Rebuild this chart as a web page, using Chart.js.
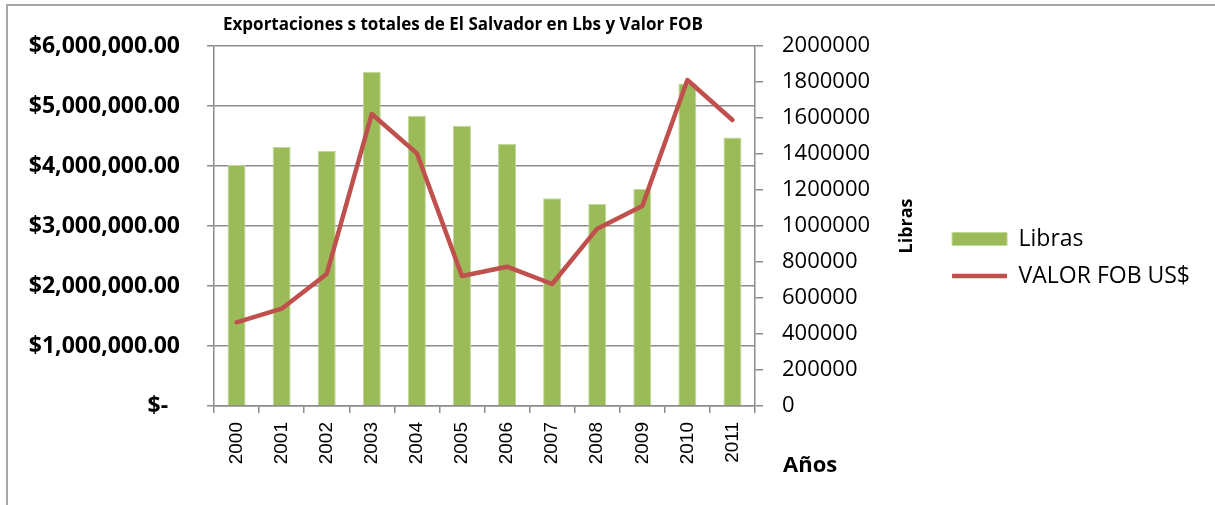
<!DOCTYPE html>
<html>
<head>
<meta charset="utf-8">
<script src="https://cdn.jsdelivr.net/npm/chart.js@4/dist/chart.umd.min.js"></script>
<style>
  body { margin: 0; background: #fff; }
</style>
</head>
<body>
<canvas id="myChart" width="1215" height="505"></canvas>
<script>
const years = ['2000', '2001', '2002', '2003', '2004', '2005', '2006', '2007', '2008', '2009', '2010', '2011'];
const libras = [1339000, 1439000, 1417000, 1857000, 1613000, 1557000, 1456000, 1154000, 1122000, 1206000, 1791000, 1491000];
const valorFob = [1395000, 1622000, 2200000, 4867000, 4211000, 2167000, 2322000, 2033000, 2955000, 3333000, 5433000, 4767000];

const chartTitle = 'Exportaciones s totales de El Salvador en Lbs y Valor FOB';
const axisGrey = '#8c8c8c';
const legendFont = { family: 'Open Sans', size: 23 };
const legendPad = 14;
const legendBox = 55;

// legend should start at x=938, so work out how much right padding is left over
const canvas = document.getElementById('myChart');
const mctx = canvas.getContext('2d');
mctx.font = legendFont.size + 'px "' + legendFont.family + '"';
const longest = Math.max(mctx.measureText('VALOR FOB US$').width, mctx.measureText('Libras').width);
const legendWidth = legendPad + legendBox + legendFont.size / 2 + longest + 10;
const padRight = Math.max(0, Math.round(1215 - 938 - legendWidth));

// frame + titles that Chart.js can't place the way Excel did
const extraText = {
    id: 'extraText',
    beforeDraw(chart) {
        const c = chart.ctx;
        c.save();
        c.fillStyle = '#fff';
        c.fillRect(0, 0, chart.width, chart.height);
        c.strokeStyle = '#a6a6a6';
        c.lineWidth = 2;
        c.beginPath();
        c.moveTo(7, chart.height);
        c.lineTo(7, 5);
        c.lineTo(chart.width, 5);
        c.stroke();
        c.restore();
    },
    afterDraw(chart) {
        const c = chart.ctx;
        const area = chart.chartArea;
        c.save();
        c.fillStyle = '#000';
        c.textBaseline = 'middle';

        c.font = 'bold 17px "Open Sans"';
        c.textAlign = 'center';
        c.fillText(chartTitle, 463, 25);

        c.font = 'bold 22px "Open Sans"';
        c.textAlign = 'left';
        c.fillText('Años', area.right + 28, 466);

        c.translate(907, 226);
        c.rotate(-Math.PI / 2);
        c.font = 'bold 18px "Open Sans"';
        c.textAlign = 'center';
        c.fillText('Libras', 0, 0);
        c.restore();
    }
};

function money(v) {
    if (v === 0) return '$-  ';
    return '$' + v.toLocaleString('en-US', { minimumFractionDigits: 2, maximumFractionDigits: 2 });
}

new Chart(canvas, {
    type: 'bar',
    data: {
        labels: years,
        datasets: [
            {
                type: 'line',
                label: 'VALOR FOB US$',
                data: valorFob,
                yAxisID: 'y',
                borderColor: '#c0504d',
                backgroundColor: '#c0504d',
                borderWidth: 4.5,
                borderJoinStyle: 'round',
                borderCapStyle: 'round',
                pointRadius: 0,
                pointStyle: 'line',
                tension: 0,
                order: 0
            },
            {
                label: 'Libras',
                data: libras,
                yAxisID: 'y1',
                backgroundColor: '#9bbb59',
                borderColor: '#c3d69b',
                borderWidth: 1,
                pointStyle: 'rect',
                barPercentage: 0.4,
                categoryPercentage: 1,
                order: 1
            }
        ]
    },
    options: {
        responsive: false,
        animation: false,
        layout: { padding: { top: 46, right: padRight, bottom: 36, left: 0 } },
        plugins: {
            title: { display: false },
            tooltip: { enabled: false },
            legend: {
                position: 'right',
                reverse: true,
                maxWidth: 400, // otherwise capped to a third of half the canvas and the text gets clipped
                labels: {
                    usePointStyle: true,
                    pointStyleWidth: legendBox,
                    boxHeight: 13,
                    padding: legendPad,
                    color: '#000',
                    font: legendFont
                }
            }
        },
        scales: {
            x: {
                offset: true,
                grid: { offset: true, drawOnChartArea: false, drawTicks: true, tickLength: 7, color: axisGrey, lineWidth: 1.5 },
                border: { color: axisGrey, width: 1.5 },
                ticks: {
                    minRotation: 90,
                    maxRotation: 90,
                    padding: 9,
                    color: '#000',
                    font: { family: 'Liberation Sans', size: 19 }
                },
                afterFit(scale) { scale.height = 63; }
            },
            y: {
                position: 'left',
                min: 0,
                max: 6000000,
                grid: { color: axisGrey, lineWidth: 1.5, tickLength: 7 },
                border: { color: axisGrey, width: 1.5 },
                ticks: {
                    stepSize: 1000000,
                    padding: 27,
                    color: '#000',
                    font: { family: 'Open Sans', size: 23, weight: 'bold' },
                    callback: v => money(v)
                },
                afterFit(scale) { scale.width = 214; }
            },
            y1: {
                position: 'right',
                min: 0,
                max: 2000000,
                grid: { drawOnChartArea: false, color: axisGrey, lineWidth: 1.5, tickLength: 8 },
                border: { color: axisGrey, width: 1.5 },
                ticks: {
                    stepSize: 200000,
                    padding: 19,
                    color: '#000',
                    font: { family: 'Open Sans', size: 22 },
                    callback: v => String(v)
                },
                // fill whatever is left between the plot and the legend
                afterFit(scale) { scale.width = 1215 - padRight - scale.chart.legend.width - 755; }
            }
        }
    },
    plugins: [extraText]
});
</script>
</body>
</html>
